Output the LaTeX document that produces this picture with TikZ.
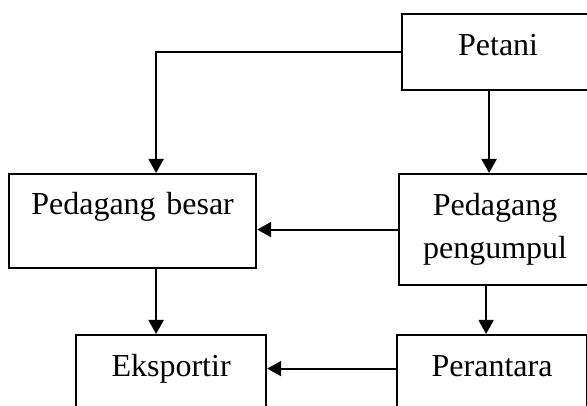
\documentclass[tikz,border=0pt]{standalone}
\usepackage{fontspec}
\setmainfont{Liberation Serif}
\usetikzlibrary{arrows.meta}
\begin{document}
\begin{tikzpicture}[x=1pt,y=-1pt,
  box/.style={draw,line width=2.2pt,inner sep=0pt,align=center,anchor=north west,
    font=\fontsize{32}{43}\selectfont},
  arr/.style={line width=2pt,-{Triangle[length=14pt,width=15pt]}}]
\useasboundingbox (0,0) rectangle (587,406);
\clip (0,0) rectangle (587,406);
\node[box,text width=192pt,text height=41pt,text depth=35pt] (Petani) at (401,13) {Petani};
\node[box,text width=247pt,text height=40pt,text depth=54pt] (PB) at (8,173) {Pedagang besar};
\node[box,text width=192pt,text height=41pt,text depth=70pt] (PP) at (398,173) {Pedagang\\pengumpul};
\node[box,text width=190pt,text height=41pt,text depth=50pt] (Eks) at (75,334) {Eksportir};
\node[box,text width=190pt,text height=41pt,text depth=50pt] (Per) at (396,334) {Perantara};
\draw[arr] (Petani.west) -| ([xshift=23.5pt]PB.north);
\draw[arr] ([xshift=-9pt]Petani.south) -- ([xshift=-9pt]Petani.south |- PP.north);
\draw[arr] (PP.west) -- (PP.west -| PB.east);
\draw[arr] ([xshift=23.5pt]PB.south) -- ([xshift=23.5pt]PB.south |- Eks.north);
\draw[arr] ([xshift=-9pt]PP.south) -- ([xshift=-9pt]PP.south |- Per.north);
\draw[arr] ([yshift=12pt]Per.west) -- ([yshift=12pt]Per.west -| Eks.east);
\end{tikzpicture}
\end{document}
